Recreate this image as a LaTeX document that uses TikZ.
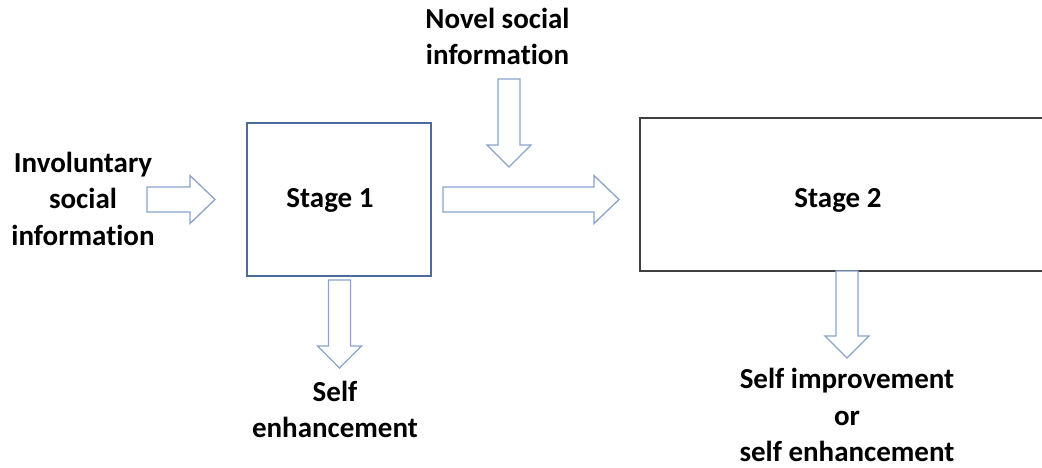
\documentclass[tikz,border=0pt]{standalone}
\usepackage{fontspec}
\setmainfont{Carlito}[Ligatures={NoCommon}]
\usetikzlibrary{calc}
\definecolor{boxblue}{HTML}{4A6C9E}
\definecolor{arrblue}{HTML}{8AA4CB}
\definecolor{boxgray}{HTML}{404040}
\tikzset{
  lbl/.style={font=\fontsize{29}{36.5}\selectfont\bfseries, align=center, inner sep=0pt},
  barrow/.style={draw=arrblue, line width=1.3pt, fill=white, line join=miter},
  stageone/.style={draw=boxblue, line width=1.3pt, minimum width=184pt, minimum height=153pt, inner sep=0pt},
  stagetwo/.style={draw=boxgray, line width=1.6pt, minimum width=405pt, minimum height=153pt, inner sep=0pt},
}
% horizontal block arrow from #1 (tail centre) to #2 (tip)
\newcommand{\harrowblk}[2]{%
  \draw[barrow] ($(#1)+(0,-12.5)$) -- ($(#2)+(-25,-12.5)$) -- ($(#2)+(-25,-24)$) -- (#2)
    -- ($(#2)+(-25,24)$) -- ($(#2)+(-25,12.5)$) -- ($(#1)+(0,12.5)$) -- cycle;}
% downward block arrow from #1 (tail centre) to #2 (tip); y axis points down
\newcommand{\varrowblk}[2]{%
  \draw[barrow] ($(#1)+(-11,0)$) -- ($(#2)+(-11,-22)$) -- ($(#2)+(-22,-22)$) -- (#2)
    -- ($(#2)+(22,-22)$) -- ($(#2)+(11,-22)$) -- ($(#1)+(11,0)$) -- cycle;}
\begin{document}
\begin{tikzpicture}[x=1pt,y=-1pt]
\useasboundingbox (0,0) rectangle (1042,467);
\clip (0,0) rectangle (1042,467);
\fill[white] (0,0) rectangle (1042,467);

\node[stageone] (s1) at (339,199.5) {};
\node[lbl] (s1t) at (330,200) {Stage 1};
\node[stagetwo] (s2) at (842.5,194.5) {};
\node[lbl] (s2t) at (838,200) {Stage 2};

\node[lbl] (inv) at (83,198.5) {Involuntary\\social\\information};
\node[lbl] (nov) at (497.5,36.5) {Novel social\\information};
\node[lbl] (se1) at (335,409.5) {Self\\enhancement};
\node[lbl] (se2) at (847,415) {Self improvement\\or\\self enhancement};

\coordinate (a1s) at (147,199.5);
\coordinate (a1e) at (215,199.5);
\coordinate (a2s) at (443,199.5);
\coordinate (a2e) at (619,199.5);
\coordinate (a3s) at (509,79);
\coordinate (a3e) at (509,167);
\coordinate (a4s) at (339.5,280);
\coordinate (a4e) at (339.5,368);
\coordinate (a5s) at (847,271);
\coordinate (a5e) at (847,358);

\harrowblk{a1s}{a1e}
\harrowblk{a2s}{a2e}
\varrowblk{a3s}{a3e}
\varrowblk{a4s}{a4e}
\varrowblk{a5s}{a5e}
\end{tikzpicture}
\end{document}
